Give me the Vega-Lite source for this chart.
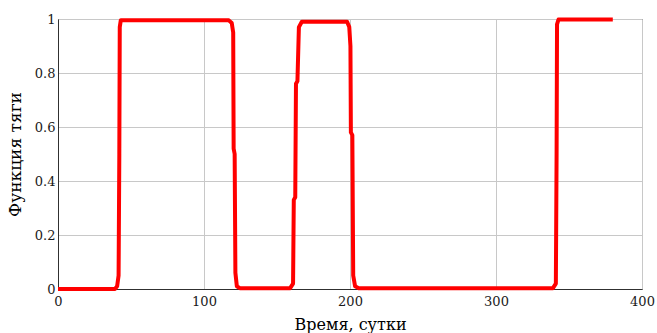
{
  "$schema": "https://vega.github.io/schema/vega-lite/v6.json",
  "width": 584,
  "height": 270,
  "autosize": {"type": "none"},
  "padding": {"left": 58, "top": 19, "right": 15, "bottom": 44},
  "background": "white",
  "config": {
    "view": {"stroke": "#303030", "strokeWidth": 1},
    "font": "DejaVu Serif",
    "axis": {
      "labelFont": "DejaVu Serif",
      "titleFont": "DejaVu Serif",
      "labelFontSize": 13,
      "titleFontSize": 16,
      "titleFontWeight": "normal",
      "labelColor": "#1a1a1a",
      "titleColor": "#000000",
      "gridColor": "#c8c8c8",
      "gridWidth": 1,
      "gridOpacity": 1,
      "domainColor": "#303030",
      "domainWidth": 1,
      "ticks": false,
      "tickSize": 0
    }
  },
  "data": {
    "values": [
      {"t": 0, "f": 0},
      {"t": 39, "f": 0},
      {"t": 40.5, "f": 0.01},
      {"t": 41.5, "f": 0.05},
      {"t": 42, "f": 0.5},
      {"t": 42.3, "f": 0.97},
      {"t": 43, "f": 0.995},
      {"t": 117, "f": 0.995},
      {"t": 119, "f": 0.985},
      {"t": 120, "f": 0.95},
      {"t": 120.3, "f": 0.52},
      {"t": 121, "f": 0.5},
      {"t": 121.5, "f": 0.06},
      {"t": 122.5, "f": 0.01},
      {"t": 124.5, "f": 0.003},
      {"t": 159, "f": 0.003},
      {"t": 161, "f": 0.02},
      {"t": 161.5, "f": 0.33},
      {"t": 162.5, "f": 0.34},
      {"t": 163, "f": 0.76},
      {"t": 164, "f": 0.77},
      {"t": 165, "f": 0.97},
      {"t": 167, "f": 0.99},
      {"t": 198, "f": 0.99},
      {"t": 199.5, "f": 0.97},
      {"t": 200.3, "f": 0.9},
      {"t": 200.6, "f": 0.58},
      {"t": 201.6, "f": 0.57},
      {"t": 202.2, "f": 0.05},
      {"t": 203.5, "f": 0.01},
      {"t": 206, "f": 0.003},
      {"t": 339, "f": 0.003},
      {"t": 341, "f": 0.02},
      {"t": 341.5, "f": 0.5},
      {"t": 341.8, "f": 0.98},
      {"t": 342.8, "f": 0.998},
      {"t": 380, "f": 0.998}
    ]
  },
  "mark": {"type": "line", "color": "#ff0000", "strokeWidth": 4, "strokeJoin": "round", "clip": false},
  "encoding": {
    "x": {
      "field": "t",
      "type": "quantitative",
      "scale": {"domain": [0, 400], "nice": false, "zero": false},
      "axis": {
        "title": "Время, сутки",
        "values": [0, 100, 200, 300, 400],
        "format": "d",
        "labelPadding": 6,
        "titlePadding": 8,
        "labelFlush": false,
        "labelOverlap": false
      }
    },
    "y": {
      "field": "f",
      "type": "quantitative",
      "scale": {"domain": [0, 1], "nice": false},
      "axis": {
        "title": "Функция тяги",
        "titleFontSize": 17,
        "values": [0, 0.2, 0.4, 0.6, 0.8, 1],
        "labelExpr": "datum.value == 0 ? '0' : datum.value == 1 ? '1' : format(datum.value, '.1f')",
        "labelPadding": 3,
        "titlePadding": 10,
        "labelFlush": false
      }
    }
  }
}
